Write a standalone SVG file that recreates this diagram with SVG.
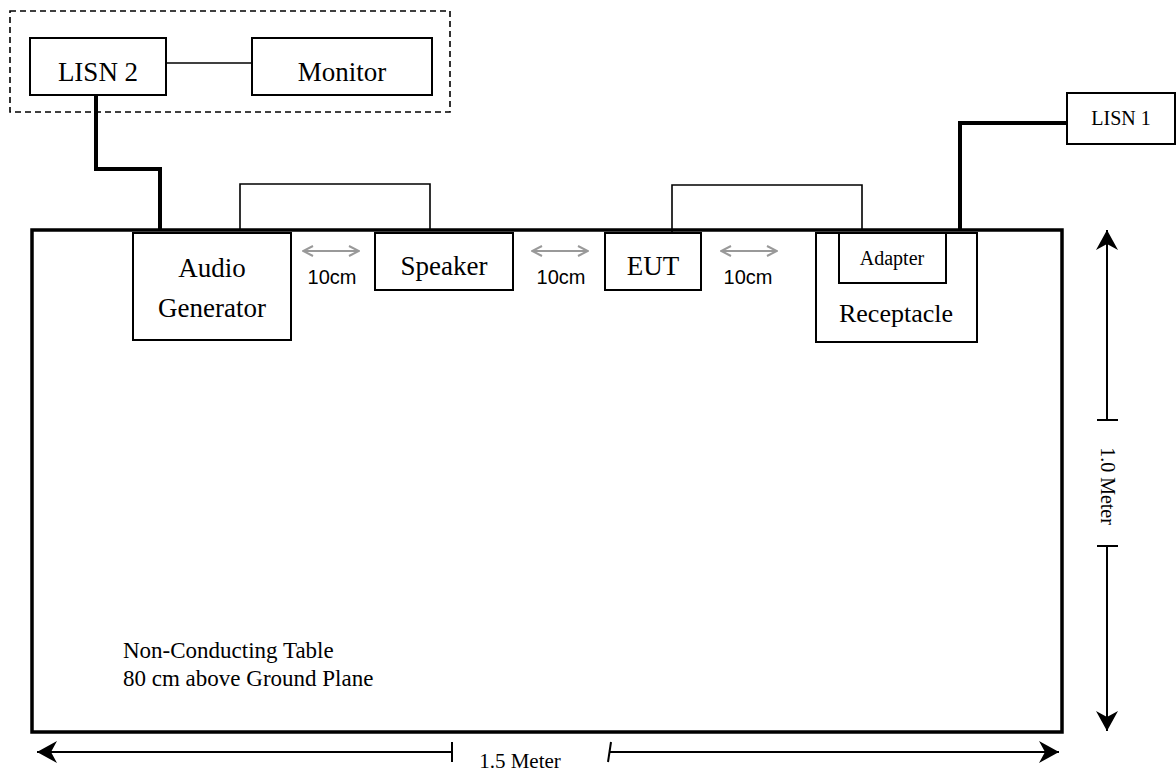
<svg xmlns="http://www.w3.org/2000/svg" width="1176" height="774" viewBox="0 0 1176 774">
<style>
.box{fill:#fff;stroke:#000;stroke-width:2}
.lbl{font-family:"Liberation Serif","Times New Roman",serif;fill:#000;text-anchor:middle}
.cm{font-family:"Liberation Sans",Arial,sans-serif;font-size:20px;fill:#000;text-anchor:middle}
.thin{fill:none;stroke:#000;stroke-width:1.6}
.thick{fill:none;stroke:#000;stroke-width:4}
.gap{fill:none;stroke:#999;stroke-width:2;marker-start:url(#ga);marker-end:url(#ga)}
.dim{fill:none;stroke:#000;stroke-width:2}
</style>
<defs>
<marker id="ga" viewBox="0 0 12 12" refX="11" refY="6" markerWidth="12" markerHeight="12" markerUnits="userSpaceOnUse" orient="auto-start-reverse">
<path d="M1,1 L11,6 L1,11" fill="none" stroke="#999" stroke-width="2"/>
</marker>
<marker id="da" viewBox="0 0 22 24" refX="21" refY="12" markerWidth="22" markerHeight="24" markerUnits="userSpaceOnUse" orient="auto-start-reverse">
<path d="M21,12 L1,1 L7,12 L1,23 Z" fill="#000"/>
</marker>
</defs>

<g id="table">
<rect x="32" y="230" width="1030" height="502" fill="#fff" stroke="#000" stroke-width="3.5"/>
<text class="lbl" x="123" y="658" font-size="23" text-anchor="start" style="text-anchor:start">Non-Conducting Table</text>
<text class="lbl" x="123" y="686" font-size="23" style="text-anchor:start">80 cm above Ground Plane</text>
</g>

<g id="shielded-area">
<rect x="10" y="11" width="440" height="101" fill="none" stroke="#000" stroke-width="1.6" stroke-dasharray="6,4"/>
</g>

<g id="connectors">
<path class="thick" d="M96,95 V169 H160 V230"/>
<path class="thin" d="M166,63 H252"/>
<path class="thin" d="M240,230 V184 H430 V230"/>
<path class="thin" d="M672,233 V185 H862 V230"/>
<path class="thick" d="M1067,123 H960 V230"/>
</g>

<g id="lisn2">
<rect class="box" x="30" y="38" width="136" height="57"/>
<text class="lbl" x="98" y="81" font-size="27">LISN 2</text>
</g>
<g id="monitor">
<rect class="box" x="252" y="38" width="180" height="57"/>
<text class="lbl" x="342" y="81" font-size="27">Monitor</text>
</g>
<g id="audio-generator">
<rect class="box" x="133" y="233" width="158" height="107"/>
<text class="lbl" x="212" y="277" font-size="27">Audio</text>
<text class="lbl" x="212" y="317" font-size="27">Generator</text>
</g>
<g id="speaker">
<rect class="box" x="375" y="233" width="138" height="57"/>
<text class="lbl" x="444" y="275" font-size="27">Speaker</text>
</g>
<g id="eut">
<rect class="box" x="605" y="233" width="96" height="57"/>
<text class="lbl" x="653" y="275" font-size="27">EUT</text>
</g>
<g id="receptacle">
<rect class="box" x="816" y="233" width="161" height="109"/>
<text class="lbl" x="896" y="322" font-size="26">Receptacle</text>
</g>
<g id="adapter">
<rect class="box" x="839" y="233" width="107" height="50"/>
<text class="lbl" x="892" y="265" font-size="20">Adapter</text>
</g>
<g id="lisn1">
<rect class="box" x="1067" y="93" width="108" height="51"/>
<text class="lbl" x="1121" y="125" font-size="20">LISN 1</text>
</g>

<g id="spacings">
<path class="gap" d="M303,251 H359"/>
<text class="cm" x="332" y="284">10cm</text>
<path class="gap" d="M532,251 H588"/>
<text class="cm" x="561" y="284">10cm</text>
<path class="gap" d="M721,251 H777"/>
<text class="cm" x="748" y="284">10cm</text>
</g>

<g id="dimensions">
<path class="dim" d="M1107,420 V230" marker-end="url(#da)"/>
<path class="dim" d="M1097,420 H1118"/>
<path class="dim" d="M1097,546 H1118"/>
<path class="dim" d="M1107,546 V731" marker-end="url(#da)"/>
<text class="lbl" font-size="20" transform="translate(1101,486) rotate(90)">1.0 Meter</text>
<path class="dim" d="M452,752 H37" marker-end="url(#da)"/>
<path class="dim" d="M452,742 V762"/>
<path class="dim" d="M611,742 L608,762"/>
<path class="dim" d="M609,752 H1059" marker-end="url(#da)"/>
<text class="lbl" x="520" y="768" font-size="21">1.5 Meter</text>
</g>
</svg>
